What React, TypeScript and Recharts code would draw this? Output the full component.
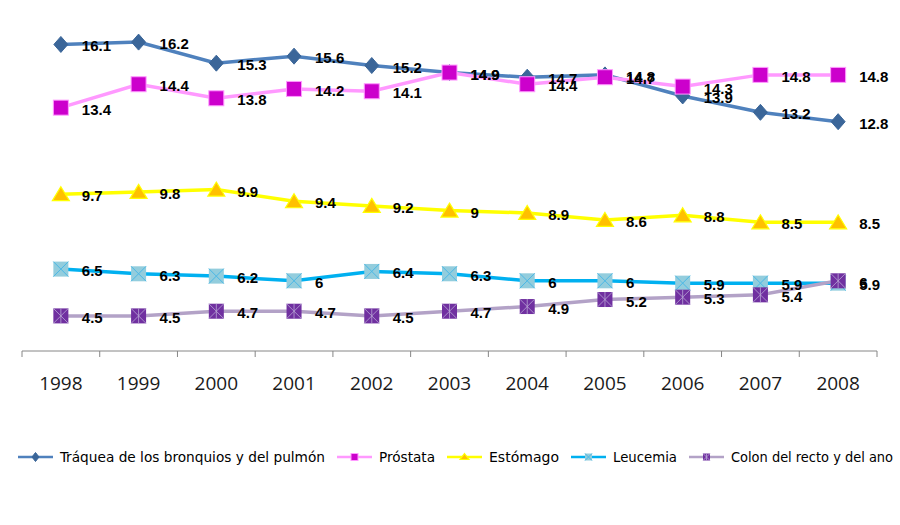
import React from 'react';
import { LineChart, Line, XAxis, YAxis, Legend, LabelList } from 'recharts';

const years = ['1998', '1999', '2000', '2001', '2002', '2003', '2004', '2005', '2006', '2007', '2008'];
const traquea = [16.1, 16.2, 15.3, 15.6, 15.2, 14.9, 14.7, 14.8, 13.9, 13.2, 12.8];
const prostata = [13.4, 14.4, 13.8, 14.2, 14.1, 14.9, 14.4, 14.7, 14.3, 14.8, 14.8];
const estomago = [9.7, 9.8, 9.9, 9.4, 9.2, 9, 8.9, 8.6, 8.8, 8.5, 8.5];
const leucemia = [6.5, 6.3, 6.2, 6, 6.4, 6.3, 6, 6, 5.9, 5.9, 5.9];
const colon = [4.5, 4.5, 4.7, 4.7, 4.5, 4.7, 4.9, 5.2, 5.3, 5.4, 6];

const seriesNames = [
  'Tráquea de los bronquios y del pulmón',
  'Próstata',
  'Estómago',
  'Leucemia',
  'Colon del recto y del ano',
];
const seriesKeys = ['traquea', 'prostata', 'estomago', 'leucemia', 'colon'];
const lineColors = ['#4F81BD', '#FF99FF', '#FFFF00', '#00B0F0', '#B3A2C7'];
const legendTextWidths = [265, 56, 70, 64, 162];

const data = years.map((y, i) => ({
  year: y,
  traquea: traquea[i],
  prostata: prostata[i],
  estomago: estomago[i],
  leucemia: leucemia[i],
  colon: colon[i],
}));

const W = 900;
const H = 525;
const M = { top: 0, left: 22, right: 23, bottom: 134 };
const BAND = (W - M.left - M.right) / years.length;

function marker(kind: string, cx: number, cy: number, s: number, key?: any) {
  const h = s / 2;
  if (kind === 'traquea') {
    return (
      <path key={key} d={`M${cx},${cy - h - 1}L${cx + h},${cy}L${cx},${cy + h + 1}L${cx - h},${cy}Z`} fill="#3B6699" stroke="#3B6699" strokeWidth={1} />
    );
  }
  if (kind === 'prostata') {
    return <rect key={key} x={cx - h} y={cy - h} width={s} height={s} fill="#CC00CC" stroke="#FF99FF" strokeWidth={1} />;
  }
  if (kind === 'estomago') {
    return (
      <path key={key} d={`M${cx},${cy - h}L${cx + h + 1},${cy + h - 1}L${cx - h - 1},${cy + h - 1}Z`} fill="#FFC000" stroke="#FFFF00" strokeWidth={1.2} />
    );
  }
  if (kind === 'leucemia') {
    return (
      <g key={key}>
        <rect x={cx - h} y={cy - h} width={s} height={s} fill="#93CDDD" />
        <path d={`M${cx - h},${cy - h}L${cx + h},${cy + h}M${cx + h},${cy - h}L${cx - h},${cy + h}`} stroke="#4BB8E6" strokeWidth={1} />
      </g>
    );
  }
  return (
    <g key={key}>
      <rect x={cx - h} y={cy - h} width={s} height={s} fill="#7030A0" />
      <path d={`M${cx - h},${cy - h}L${cx + h},${cy + h}M${cx + h},${cy - h}L${cx - h},${cy + h}M${cx},${cy - h}L${cx},${cy + h}`} stroke="#B9A7D6" strokeWidth={0.8} />
    </g>
  );
}

const markerSizes: Record<string, number> = { traquea: 14, prostata: 15, estomago: 15, leucemia: 15, colon: 15 };

const makeDot = (kind: string) => (props: any) => {
  const { cx, cy, index } = props;
  if (cx == null || cy == null) return <g key={`${kind}-${index}`} />;
  return marker(kind, cx, cy, markerSizes[kind], `${kind}-${index}`);
};

const labelContent = (props: any) => {
  const { x, y, value } = props;
  return (
    <text x={Number(x) + 21} y={Number(y) + 7} fontSize={15} fontWeight="bold" fontFamily="'Liberation Sans', Arial, sans-serif" fill="#000" textAnchor="start">
      {value}
    </text>
  );
};

const XTick = (props: any) => {
  const { x, y, payload, index } = props;
  const axisY = y - 8;
  return (
    <g>
      <line x1={x - BAND / 2} x2={x - BAND / 2} y1={axisY} y2={axisY + 6} stroke="#868686" strokeWidth={1} />
      {index === years.length - 1 && (
        <line x1={x + BAND / 2} x2={x + BAND / 2} y1={axisY} y2={axisY + 6} stroke="#868686" strokeWidth={1} />
      )}
      <text x={x} y={axisY + 39} textAnchor="middle" fontSize={19} fontFamily="'Open Sans', 'Liberation Sans', sans-serif" fill="#1a1a1a">
        {payload.value}
      </text>
    </g>
  );
};

const LegendContent = () => {
  let cursor = 18;
  const items = seriesKeys.map((k, i) => {
    const x0 = cursor;
    const iconW = 35;
    const tx = x0 + iconW + 7;
    cursor = tx + legendTextWidths[i] + 12;
    return (
      <g key={k}>
        <line x1={x0} x2={x0 + iconW} y1={17} y2={17} stroke={lineColors[i]} strokeWidth={2.5} />
        {marker(k, x0 + iconW / 2, 17, 7)}
        <text x={tx} y={22} fontSize={14.5} fontFamily="'Liberation Sans Narrow', 'DejaVu Sans Condensed', 'Liberation Sans', sans-serif" fill="#000" textLength={legendTextWidths[i]} lengthAdjust="spacingAndGlyphs">
          {seriesNames[i]}
        </text>
      </g>
    );
  });
  return (
    <svg width={900} height={34} style={{ display: 'block' }}>
      {items}
    </svg>
  );
};

export default function App() {
  return (
    <div style={{ position: 'absolute', left: 0, top: 0, width: W, height: H, background: '#fff' }}>
      <LineChart width={W} height={H} data={data} margin={M}>
        <XAxis
          dataKey="year"
          height={40}
          padding={{ left: BAND / 2, right: BAND / 2 }}
          axisLine={{ stroke: '#868686', strokeWidth: 1 }}
          tickLine={false}
          tick={<XTick />}
          interval={0}
        />
        <YAxis hide domain={[3, 18]} />
        {seriesKeys.map((k, i) => (
          <Line
            key={k}
            type="linear"
            dataKey={k}
            name={seriesNames[i]}
            stroke={lineColors[i]}
            strokeWidth={3.5}
            dot={makeDot(k)}
            activeDot={false}
            isAnimationActive={false}
          >
            <LabelList dataKey={k} content={labelContent} />
          </Line>
        ))}
        <Legend
          verticalAlign="middle"
          align="center"
          layout="horizontal"
          content={<LegendContent />}
          wrapperStyle={{ top: 440, left: 0, width: 900, height: 34 }}
        />
      </LineChart>
    </div>
  );
}
